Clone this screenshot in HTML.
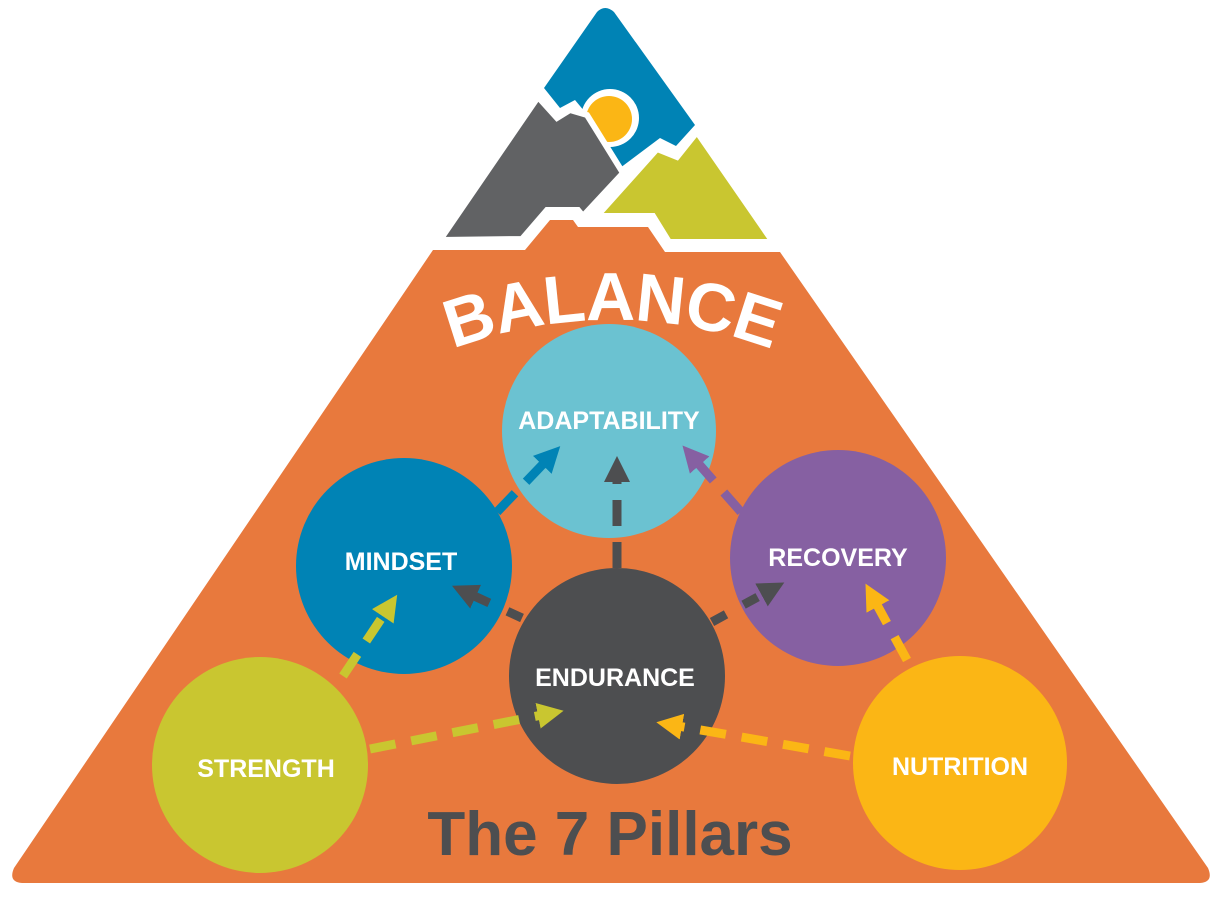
<!DOCTYPE html>
<html><head><meta charset="utf-8"><style>
html,body{margin:0;padding:0;background:#fff;width:1224px;height:900px;overflow:hidden}
svg{display:block}
.lbl{font-family:"Liberation Sans",sans-serif;font-weight:bold;fill:#fff;font-size:25px;text-anchor:middle}
</style></head><body>
<svg width="1224" height="900" viewBox="0 0 1224 900" xmlns="http://www.w3.org/2000/svg">
<defs>
<marker id="m1" markerUnits="userSpaceOnUse" markerWidth="30" markerHeight="30" refX="4" refY="13" orient="auto"><path d="M0,0 L26,13 L0,26 Z" fill="#0083B5"/></marker>
<marker id="m2" markerUnits="userSpaceOnUse" markerWidth="30" markerHeight="30" refX="4" refY="13" orient="auto"><path d="M0,0 L26,13 L0,26 Z" fill="#4D4E50"/></marker>
<marker id="m3" markerUnits="userSpaceOnUse" markerWidth="30" markerHeight="30" refX="4" refY="13" orient="auto"><path d="M0,0 L26,13 L0,26 Z" fill="#8660A2"/></marker>
<marker id="m4" markerUnits="userSpaceOnUse" markerWidth="30" markerHeight="30" refX="4" refY="13" orient="auto"><path d="M0,0 L26,13 L0,26 Z" fill="#C9C630"/></marker>
<marker id="m5" markerUnits="userSpaceOnUse" markerWidth="30" markerHeight="30" refX="4" refY="13" orient="auto"><path d="M0,0 L26,13 L0,26 Z" fill="#FBB615"/></marker>
<path id="arc" d="M 162 770 A 450 450 0 0 1 1062 770"/>
</defs>
<path d="M597,12 Q605,4 614,12 L695,125 L676,146 L660,138 L620,168 L590,118 L575,100 L560,108 L544,88 Z" fill="#0083B5"/>
<circle cx="610" cy="118" r="29" fill="#fff"/>
<circle cx="609" cy="119" r="23" fill="#FBB615"/>
<path d="M538,97 L557,118 L570,110 L587,115 L623,173 L583,216 L578,210 L547,210 L522,239 L440,240 Z" fill="#616264" stroke="#fff" stroke-width="6" stroke-linejoin="miter"/>
<path d="M697,132 L677,157 L657,149 L597,216 L653,216 L669,242 L773,242 Z" fill="#C9C630" stroke="#fff" stroke-width="6"/>
<path d="M433,250 L525,250 L550,220 L573,220 L578,227 L648,227 L665,252 L780,252 L1208,868 Q1214,882 1200,883 L22,883 Q8,882 14,868 Z" fill="#E8793D"/>
<text font-family="Liberation Sans,sans-serif" font-weight="bold" font-size="68" fill="#fff" letter-spacing="-1"><textPath href="#arc" startOffset="50%" text-anchor="middle">BALANCE</textPath></text>
<circle cx="609" cy="431" r="107" fill="#6BC2D1"/>
<circle cx="404" cy="566" r="108" fill="#0083B5"/>
<circle cx="838" cy="558" r="108" fill="#8660A2"/>
<circle cx="617" cy="676" r="108" fill="#4D4E50"/>
<circle cx="260" cy="765" r="108" fill="#C9C630"/>
<circle cx="960" cy="763" r="107" fill="#FBB615"/>
<g stroke-width="9" fill="none" stroke-dasharray="26 16">
<line x1="497" y1="512" x2="545" y2="462" stroke="#0083B5" marker-end="url(#m1)"/>
<line x1="617" y1="568" x2="617" y2="478" stroke="#4D4E50" marker-end="url(#m2)"/>
<line x1="741" y1="512" x2="697" y2="462" stroke="#8660A2" marker-end="url(#m3)"/>
<line x1="522" y1="618" x2="472" y2="595" stroke="#4D4E50" marker-end="url(#m2)" stroke-dasharray="16 20"/>
<line x1="712" y1="622" x2="765" y2="593" stroke="#4D4E50" marker-end="url(#m2)" stroke-dasharray="16 20"/>
<line x1="343" y1="676" x2="385" y2="613" stroke="#C9C630" marker-end="url(#m4)"/>
<line x1="907" y1="660" x2="876" y2="603" stroke="#FBB615" marker-end="url(#m5)"/>
<line x1="370" y1="749" x2="542" y2="715" stroke="#C9C630" marker-end="url(#m4)"/>
<line x1="850" y1="756" x2="678" y2="726" stroke="#FBB615" marker-end="url(#m5)"/>
</g>
<text class="lbl" x="609" y="429">ADAPTABILITY</text>
<text class="lbl" x="401" y="570">MINDSET</text>
<text class="lbl" x="838" y="566">RECOVERY</text>
<text class="lbl" x="615" y="686">ENDURANCE</text>
<text class="lbl" x="266" y="777">STRENGTH</text>
<text class="lbl" x="960" y="775">NUTRITION</text>
<text x="610" y="855" font-family="Liberation Sans,sans-serif" font-weight="bold" font-size="62" fill="#4D4E50" text-anchor="middle">The 7 Pillars</text>
</svg>
</body></html>
